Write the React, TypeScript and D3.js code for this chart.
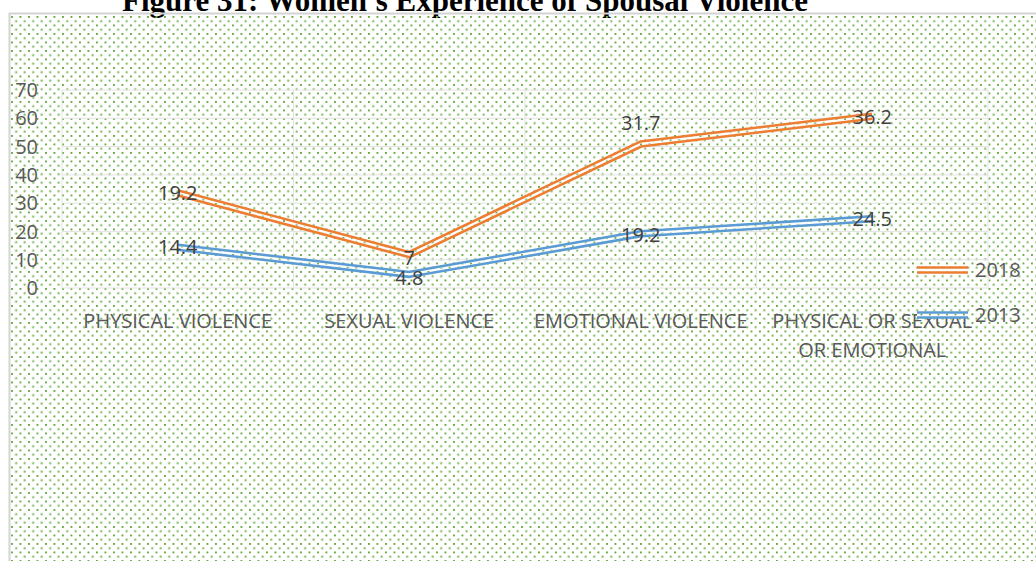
import React from "react";
import * as d3 from "d3";

const title = "Figure 31: Women's Experience of Spousal Violence";
const categories = [
  "PHYSICAL VIOLENCE",
  "SEXUAL VIOLENCE",
  "EMOTIONAL VIOLENCE",
  "PHYSICAL OR SEXUAL OR EMOTIONAL",
];
const categoryLines = [
  ["PHYSICAL VIOLENCE"],
  ["SEXUAL VIOLENCE"],
  ["EMOTIONAL VIOLENCE"],
  ["PHYSICAL OR SEXUAL", "OR EMOTIONAL"],
];
const seriesNames = ["2013", "2018"];
const values2013 = [14.4, 4.8, 19.2, 24.5];
const values2018 = [19.2, 7, 31.7, 36.2];
const yTicks = [0, 10, 20, 30, 40, 50, 60, 70];
const colors: Record<string, string> = { "2013": "#5B9BD5", "2018": "#ED7D31" };
// manual label nudges (pixels) per series, per category
const labelNudge: Record<string, number[]> = {
  "2013": [0, 3, 1, 0],
  "2018": [0, 3, -21, 0],
};

const W = 1036;
const H = 561;
const plot = { left: 62, right: 988, top: 90, bottom: 288 };
const FONT = "'Open Sans', sans-serif";
const TXT = "#595959";

export default function App() {
  const x = d3
    .scaleBand<string>()
    .domain(categories)
    .range([plot.left, plot.right])
    .paddingInner(0)
    .paddingOuter(0);
  const cx = (c: string) => (x(c) as number) + x.bandwidth() / 2;
  const y = d3.scaleLinear().domain([0, 70]).range([plot.bottom, plot.top]);

  const rows = categories.map((c, i) => ({
    cat: c,
    "2013": values2013[i],
    "2018": values2018[i],
  }));
  const stacked = d3.stack<any>().keys(seriesNames)(rows);

  const line = d3
    .line<[number, number]>()
    .x((d) => d[0])
    .y((d) => d[1]);

  const boundaries = categories.map((c) => x(c) as number).concat([plot.right]);

  const legend = [
    { name: "2018", y: 270, ty: 277 },
    { name: "2013", y: 315, ty: 322 },
  ];

  const doubleLine = (d: string, color: string, key: string) => (
    <g key={key}>
      <path d={d} fill="none" stroke={color} strokeWidth={7.5} strokeLinejoin="round" />
      <path d={d} fill="none" stroke="#ffffff" strokeWidth={2.4} strokeLinejoin="round" />
      <path d={d} fill="none" stroke="url(#dots)" strokeWidth={2.4} strokeLinejoin="round" />
    </g>
  );

  return (
    <svg
      width={W}
      height={H}
      style={{ position: "absolute", left: 0, top: 0, display: "block" }}
    >
      <defs>
        <pattern id="dots" x={11} y={16} width={8.5} height={8.5} patternUnits="userSpaceOnUse">
          <rect x={0} y={0} width={1.9} height={1.9} fill="#6aab45" />
          <rect x={4.25} y={4.25} width={1.9} height={1.9} fill="#6aab45" />
        </pattern>
      </defs>
      <rect x={0} y={0} width={W} height={H} fill="#ffffff" />
      <text
        x={465}
        y={11}
        textAnchor="middle"
        fontFamily="'Liberation Serif', 'Times New Roman', serif"
        fontWeight="bold"
        fontSize={31}
        fill="#000"
      >
        {title}
      </text>
      <rect x={10} y={14} width={W - 10} height={H - 14} fill="url(#dots)" />
      <line x1={9.5} x2={9.5} y1={13} y2={H} stroke="#d4d4d4" strokeWidth={2} />
      <line x1={9} x2={W} y1={13.5} y2={13.5} stroke="#d4d4d4" strokeWidth={2} />

      {yTicks.map((t) => (
        <line
          key={"g" + t}
          x1={plot.left}
          x2={plot.right}
          y1={y(t)}
          y2={y(t)}
          stroke="#e3e3e3"
          strokeWidth={1}
        />
      ))}
      {boundaries.map((b, i) => (
        <line
          key={"v" + i}
          x1={b}
          x2={b}
          y1={plot.top}
          y2={plot.bottom}
          stroke="#e3e3e3"
          strokeWidth={1}
        />
      ))}
      {yTicks.map((t) => (
        <text
          key={"t" + t}
          x={38}
          y={y(t)}
          dy="0.36em"
          textAnchor="end"
          fontFamily={FONT}
          fontSize={20}
          fill={TXT}
        >
          {t}
        </text>
      ))}
      {categories.map((c, i) =>
        categoryLines[i].map((ln, j) => (
          <text
            key={c + j}
            x={cx(c)}
            y={328 + j * 29}
            textAnchor="middle"
            fontFamily={FONT}
            fontSize={20}
            fill={TXT}
          >
            {ln}
          </text>
        ))
      )}

      {stacked.map((s) => {
        const pts: [number, number][] = s.map((d: any) => [cx(d.data.cat), y(d[1])]);
        return doubleLine(line(pts) as string, colors[s.key], "l" + s.key);
      })}

      {stacked.map((s) =>
        s.map((d: any, i: number) => (
          <text
            key={"d" + s.key + i}
            x={cx(d.data.cat)}
            y={y(d[1]) + labelNudge[s.key][i]}
            dy="0.36em"
            textAnchor="middle"
            fontFamily={FONT}
            fontSize={20}
            fill="#404040"
          >
            {d.data[s.key]}
          </text>
        ))
      )}

      {legend.map((l) => (
        <g key={"lg" + l.name}>
          {doubleLine(`M917,${l.y}L968,${l.y}`, colors[l.name], "ll" + l.name)}
          <text x={975} y={l.ty} fontFamily={FONT} fontSize={20} fill={TXT}>
            {l.name}
          </text>
        </g>
      ))}
    </svg>
  );
}
